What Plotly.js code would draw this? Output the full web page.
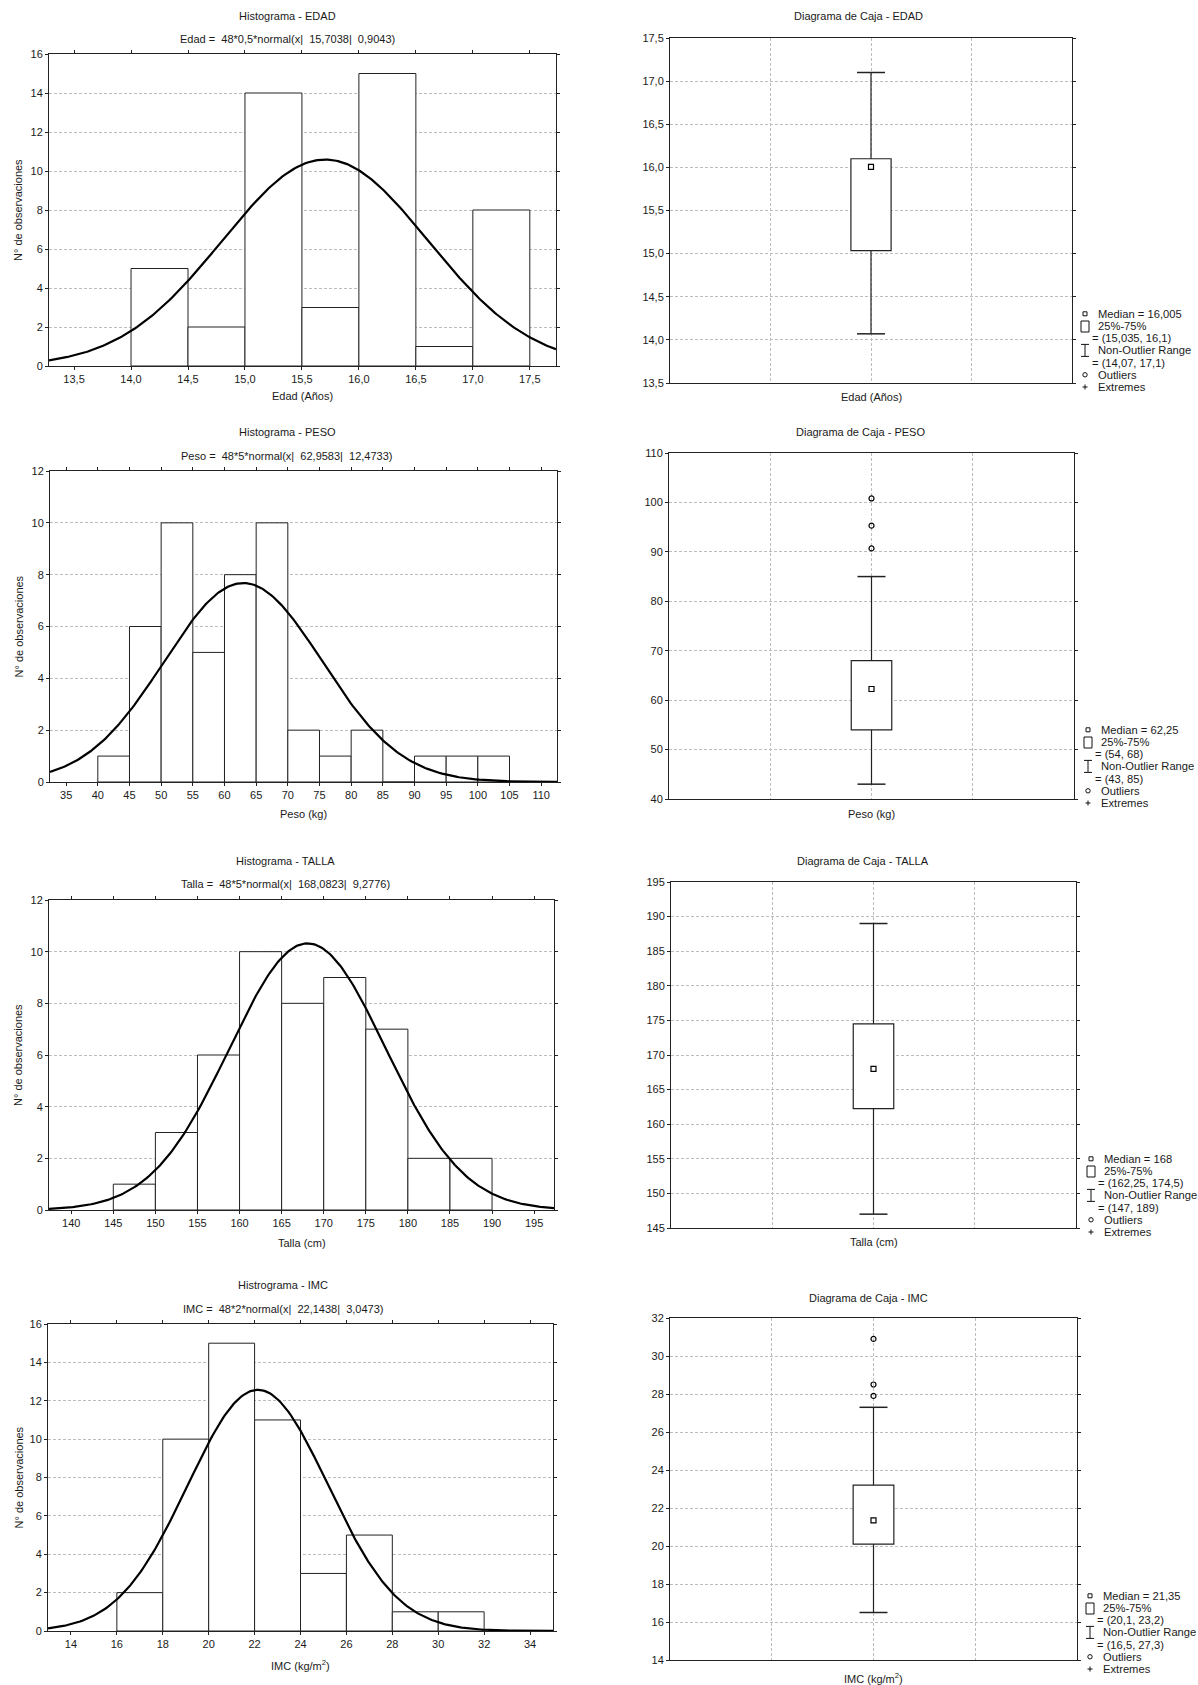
<!DOCTYPE html>
<html><head><meta charset="utf-8">
<script src="https://cdn.plot.ly/plotly-3.0.1.min.js"></script>
<style>html,body{margin:0;padding:0;background:#fff}</style>
</head><body><div id="chart" style="width:1198px;height:1685px"></div>
<script>
// ---------------- DATA ----------------
const edadBinStart = [14.0, 14.5, 15.0, 15.5, 16.0, 16.5, 17.0];
const edadCounts   = [5, 2, 14, 3, 15, 1, 8];
const edadFit      = [48, 0.5, 15.7038, 0.9043];       // n, bin width, mean, sd
const edadBox      = [14.07, 15.035, 16.005, 16.1, 17.1]; // low, q1, median, q3, high
const edadOutliers = [];

const pesoBinStart = [40, 45, 50, 55, 60, 65, 70, 75, 80, 85, 90, 95, 100];
const pesoCounts   = [1, 6, 10, 5, 8, 10, 2, 1, 2, 0, 1, 1, 1];
const pesoFit      = [48, 5, 62.9583, 12.4733];
const pesoBox      = [43, 54, 62.25, 68, 85];
const pesoOutliers = [90.7, 95.3, 100.8];

const tallaBinStart = [145, 150, 155, 160, 165, 170, 175, 180, 185];
const tallaCounts   = [1, 3, 6, 10, 8, 9, 7, 2, 2];
const tallaFit      = [48, 5, 168.0823, 9.2776];
const tallaBox      = [147, 162.25, 168, 174.5, 189];
const tallaOutliers = [];

const imcBinStart = [16, 18, 20, 22, 24, 26, 28, 30];
const imcCounts   = [2, 10, 15, 11, 3, 5, 1, 1];
const imcFit      = [48, 2, 22.1438, 3.0473];
const imcBox      = [16.5, 20.1, 21.35, 23.2, 27.3];
const imcOutliers = [27.9, 28.5, 30.9];

const histTitles = ["Histograma - EDAD", "Histograma - PESO", "Histograma - TALLA", "Histrograma - IMC"];
const fitNames   = ["Edad", "Peso", "Talla", "IMC"];
const boxTitles  = ["Diagrama de Caja - EDAD", "Diagrama de Caja - PESO", "Diagrama de Caja - TALLA", "Diagrama de Caja - IMC"];
const varLabels  = ["Edad (Años)", "Peso (kg)", "Talla (cm)", "IMC (kg/m<sup>2</sup>)"];
const yLabel     = "N° de observaciones";

// ---------------- LAYOUT GEOMETRY (pixels) ----------------
const W = 1198, H = 1685;
const fx = p => p / W, fy = p => 1 - p / H;
const histGeom = [[49,556,54,366],[50,557,471,782],[49,554,900,1210],[48,553,1324,1631]];
const boxGeom  = [[670,1072,38,383],[669,1074,453,799],[671,1076,882,1228],[670,1077,1318,1660]];
const histRange = [[13.28,17.73],[32.45,112.5],[137.36,197.36],[13.0,35.0]];
const histTick0 = [13.5,35,140,14], histDtick = [0.5,5,5,2], histYmax = [16,12,12,16];
const boxRange = [[13.5,17.5],[40,110],[145,195],[14,32]];
const boxDtick = [0.5,10,5,2];
const fmtX = ['.1f','','',''];
const titleY = [[16,39,16],[432,456,432],[861,884,861],[1285,1309,1298]];
const xTitleY = [[396,397],[814,814],[1243,1242],[1665,1678]];
const histTitleX = [287,287,285,283];
const boxTitleX = [858,860,863,868];
const legendX = [1085,1088,1091,1090];
const legendLastY = [387,803,1232,1669];

const sets = [
  [edadBinStart, edadCounts, edadFit, edadBox, edadOutliers],
  [pesoBinStart, pesoCounts, pesoFit, pesoBox, pesoOutliers],
  [tallaBinStart, tallaCounts, tallaFit, tallaBox, tallaOutliers],
  [imcBinStart, imcCounts, imcFit, imcBox, imcOutliers]
];

const FONT = "Liberation Sans, Arial, sans-serif";
const TXT = '#1a1a1a';
const GRID = '#bdbdbd';
const num = v => String(v).replace('.', ',');
const fitLabel = (name, f) => name + " = \u00a048*" + num(f[1]) + "*normal(x| \u00a0" + num(f[2]) + "| \u00a0" + num(f[3]) + ")";

const traces = [];
const layout = {
  width: W, height: H, margin: {l:0, r:0, t:0, b:0},
  paper_bgcolor: '#fff', plot_bgcolor: '#fff', showlegend: false,
  separators: ', ', font: {family: FONT, size: 11, color: TXT},
  annotations: [], shapes: []
};
const ann = (x, y, text, opt) => layout.annotations.push(Object.assign({
  xref:'paper', yref:'paper', x: fx(x), y: fy(y), text, showarrow:false,
  xanchor:'center', yanchor:'middle', font:{family:FONT, size:11, color:TXT}
}, opt || {}));

sets.forEach((s, i) => {
  const [starts, counts, fit, box, outs] = s;
  const hn = 2*i + 1, bn = 2*i + 2;
  const hx = hn === 1 ? 'x' : 'x' + hn, hy = hn === 1 ? 'y' : 'y' + hn;
  const bx = 'x' + bn, by = 'y' + bn;
  const g = histGeom[i], bg = boxGeom[i];
  const w = fit[1];

  // histogram bars
  traces.push({type:'bar', xaxis:hx, yaxis:hy, x: starts.map(v => v + w/2), y: counts,
    width: starts.map(() => w), marker:{color:'#fff', line:{color:'#222', width:1}}, hoverinfo:'skip'});
  // fitted normal curve from the parameters printed in the subtitle
  const cx = [], cy = [];
  const r = histRange[i];
  for (let k = 0; k <= 300; k++) {
    const xv = r[0] + (r[1] - r[0]) * k / 300;
    const z = (xv - fit[2]) / fit[3];
    cx.push(xv); cy.push(fit[0] * w * Math.exp(-0.5*z*z) / (fit[3] * Math.sqrt(2*Math.PI)));
  }
  traces.push({type:'scatter', mode:'lines', xaxis:hx, yaxis:hy, x:cx, y:cy,
    line:{color:'#000', width:2.2}, hoverinfo:'skip'});

  const axBase = {showline:true, mirror:'ticks', linecolor:'#222', linewidth:1, zeroline:false,
    tickfont:{family:FONT, size:11, color:TXT}, ticks:'outside', ticklen:3, tickcolor:'#222', fixedrange:true};
  layout[hn === 1 ? 'xaxis' : 'xaxis' + hn] = Object.assign({}, axBase, {
    domain:[fx(g[0]), fx(g[1])], range: r, anchor: hy, tick0: histTick0[i], dtick: histDtick[i],
    tickformat: fmtX[i], showgrid:false});
  layout[hn === 1 ? 'yaxis' : 'yaxis' + hn] = Object.assign({}, axBase, {
    domain:[fy(g[3]), fy(g[2])], range:[0, histYmax[i]], anchor: hx, tick0:0, dtick:2,
    showgrid:true, gridcolor:GRID, griddash:'3px,2px', gridwidth:1});

  // box plot
  traces.push({type:'bar', xaxis:bx, yaxis:by, x:[2], base:[box[1]], y:[box[3]-box[1]], width:[0.4],
    marker:{color:'#fff', line:{color:'#222', width:1.2}}, hoverinfo:'skip'});
  traces.push({type:'scatter', mode:'lines', xaxis:bx, yaxis:by, x:[2,2,null,2,2],
    y:[box[0], box[1], null, box[3], box[4]], line:{color:'#222', width:1.2}, hoverinfo:'skip'});
  traces.push({type:'scatter', mode:'markers', xaxis:bx, yaxis:by, x:[2,2], y:[box[0], box[4]],
    marker:{symbol:'line-ew', size:20, line:{color:'#222', width:1.5}}, hoverinfo:'skip'});
  traces.push({type:'scatter', mode:'markers', xaxis:bx, yaxis:by, x:[2], y:[box[2]],
    marker:{symbol:'square-open', size:5, color:'#000', line:{width:1.2}}, hoverinfo:'skip'});
  if (outs.length) traces.push({type:'scatter', mode:'markers', xaxis:bx, yaxis:by,
    x: outs.map(() => 2), y: outs,
    marker:{symbol:'circle-open', size:5, color:'#000', line:{width:1.2}}, hoverinfo:'skip'});

  layout['xaxis' + bn] = Object.assign({}, axBase, {
    domain:[fx(bg[0]), fx(bg[1])], range:[0,4], anchor: by, tickvals:[1,2,3], showticklabels:false,
    ticks:'', showgrid:true, gridcolor:GRID, griddash:'3px,2px', gridwidth:1});
  layout['yaxis' + bn] = Object.assign({}, axBase, {
    domain:[fy(bg[3]), fy(bg[2])], range: boxRange[i], anchor: bx, tick0: boxRange[i][0], dtick: boxDtick[i],
    tickformat: fmtX[i], showgrid:true, gridcolor:GRID, griddash:'3px,2px', gridwidth:1});

  // titles
  ann(histTitleX[i], titleY[i][0], histTitles[i]);
  ann(histTitleX[i], titleY[i][1], fitLabel(fitNames[i], fit));
  ann(boxTitleX[i], titleY[i][2], boxTitles[i]);
  ann((g[0]+g[1])/2, xTitleY[i][0], varLabels[i]);
  ann((bg[0]+bg[1])/2, xTitleY[i][1], varLabels[i]);
  ann(18, (g[2]+g[3])/2, yLabel, {textangle:-90});

  // legend block
  const sx = legendX[i], tx = sx + 11, ix = sx + 5;
  const L = [0,1,2,3,4,5,6].map(k => legendLastY[i] - (6-k)*12.2);
  const lt = [
    [tx, "Median = " + num(box[2])],
    [tx, "25%-75%"],
    [ix, "= (" + num(box[1]) + ", " + num(box[3]) + ")"],
    [tx, "Non-Outlier Range"],
    [ix, "= (" + num(box[0]) + ", " + num(box[4]) + ")"],
    [tx, "Outliers"],
    [tx, "Extremes"]
  ];
  lt.forEach((t, k) => ann(t[0], L[k], t[1], {xanchor:'left', font:{family:FONT, size:11.2, color:TXT}}));
  const sh = (o) => layout.shapes.push(Object.assign({xref:'paper', yref:'paper', line:{color:'#111', width:1}}, o));
  sh({type:'rect', x0:fx(sx-2), x1:fx(sx+2), y0:fy(L[0]+2), y1:fy(L[0]-2)});
  sh({type:'rect', x0:fx(sx-4), x1:fx(sx+4), y0:fy(L[1]+6), y1:fy(L[1]-5)});
  sh({type:'line', x0:fx(sx), x1:fx(sx), y0:fy(L[3]+6), y1:fy(L[3]-6)});
  sh({type:'line', x0:fx(sx-4), x1:fx(sx+4), y0:fy(L[3]+6), y1:fy(L[3]+6)});
  sh({type:'line', x0:fx(sx-4), x1:fx(sx+4), y0:fy(L[3]-6), y1:fy(L[3]-6)});
  sh({type:'circle', x0:fx(sx-2.2), x1:fx(sx+2.2), y0:fy(L[5]+2.2), y1:fy(L[5]-2.2)});
  sh({type:'line', x0:fx(sx-2.5), x1:fx(sx+2.5), y0:fy(L[6]), y1:fy(L[6])});
  sh({type:'line', x0:fx(sx), x1:fx(sx), y0:fy(L[6]-2.5), y1:fy(L[6]+2.5)});
});

Plotly.newPlot('chart', traces, layout, {displayModeBar:false, staticPlot:true});
</script></body></html>
